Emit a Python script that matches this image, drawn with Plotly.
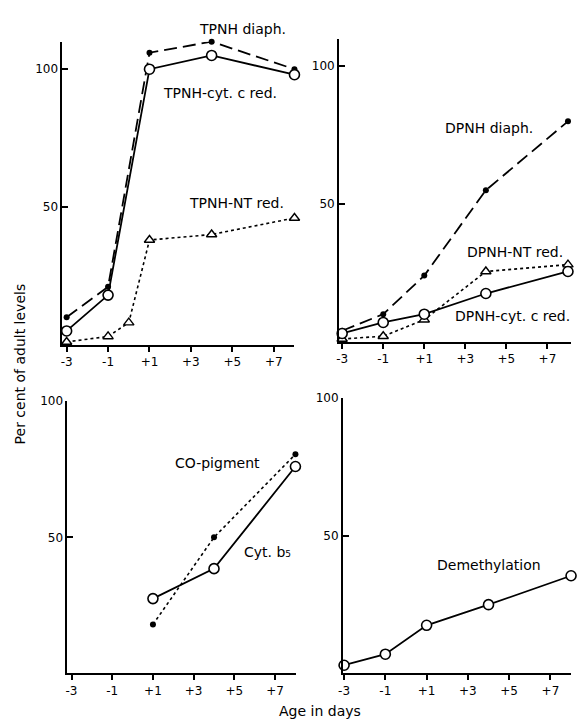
import plotly.graph_objects as go

W, H = 577, 724

# ---------------- data ----------------
days5 = [-3, -1, 1, 4, 8]
days_tpnh_nt = [-3, -1, 0, 1, 4, 8]
tpnh_diaph = [10, 21, 106, 110, 100]
tpnh_cyt = [5, 18, 100, 105, 98]
tpnh_nt = [1, 3, 8, 38, 40, 46]

dpnh_diaph = [4, 10, 24, 55, 80]
dpnh_cyt = [3, 7, 10, 17.5, 25.5]
dpnh_nt = [1, 2, 8, 25.5, 28]

days3 = [1, 4, 8]
co_pigment = [18, 50, 80.5]
cyt_b5 = [27.5, 38.5, 76]

demethylation = [3, 7, 17.5, 25, 35.5]

x_tickvals = [-3, -1, 1, 3, 5, 7]
x_ticktext = ["-3", "-1", "+1", "+3", "+5", "+7"]
y_tickvals = [50, 100]
y_ticktext = ["50", "100"]

FONT = "DejaVu Sans"
BLACK = "black"


def px(x):
    return x / W


def py(y):
    return 1 - y / H


fig = go.Figure()

DIAPH = dict(color=BLACK, width=1.8, dash="13px,6px")
SOLID = dict(color=BLACK, width=1.8)
DOTTED = dict(color=BLACK, width=1.6, dash="3px,3px")
DOT_M = dict(symbol="circle", size=6, color=BLACK)
CIRC_M = dict(symbol="circle", size=10, color="white", line=dict(color=BLACK, width=1.6))
TRI_M = dict(symbol="triangle-up", size=9, color="white", line=dict(color=BLACK, width=1.4))


def add(x, y, line, marker, xa, ya):
    fig.add_trace(go.Scatter(x=x, y=y, mode="lines+markers", line=line, marker=marker,
                             xaxis=xa, yaxis=ya, showlegend=False, cliponaxis=False,
                             hoverinfo="skip"))


# top-left
add(days_tpnh_nt, tpnh_nt, DOTTED, TRI_M, "x", "y")
add(days5, tpnh_diaph, DIAPH, DOT_M, "x", "y")
add(days5, tpnh_cyt, SOLID, CIRC_M, "x", "y")
# top-right
add(days5, dpnh_diaph, DIAPH, DOT_M, "x2", "y2")
add(days5, dpnh_nt, DOTTED, TRI_M, "x2", "y2")
add(days5, dpnh_cyt, SOLID, CIRC_M, "x2", "y2")
# bottom-left
add(days3, co_pigment, DOTTED, DOT_M, "x3", "y3")
add(days3, cyt_b5, SOLID, CIRC_M, "x3", "y3")
# bottom-right
add(days5, demethylation, SOLID, CIRC_M, "x4", "y4")


def xaxis(dom, rng, anchor):
    return dict(domain=dom, range=rng, anchor=anchor, tickvals=x_tickvals, ticktext=x_ticktext,
                showline=True, linecolor=BLACK, linewidth=2, ticks="outside", ticklen=5,
                tickwidth=1.5, tickcolor=BLACK, showgrid=False, zeroline=False,
                tickfont=dict(family=FONT, size=12, color=BLACK), fixedrange=True)


def yaxis(dom, rng, anchor):
    return dict(domain=dom, range=rng, anchor=anchor, tickvals=y_tickvals, ticktext=y_ticktext,
                showline=True, linecolor=BLACK, linewidth=2, ticks="inside", ticklen=6,
                tickwidth=1.5, tickcolor=BLACK, showgrid=False, zeroline=False,
                tickfont=dict(family=FONT, size=12, color=BLACK), fixedrange=True)


fig.update_layout(
    width=W, height=H,
    margin=dict(l=0, r=0, t=0, b=0),
    paper_bgcolor="white", plot_bgcolor="white",
    xaxis=xaxis([px(58), px(292)], [-3.2, 8.0], "y"),
    yaxis=yaxis([py(341), py(35)], [0, 110], "x"),
    xaxis2=xaxis([px(337), px(571)], [-3.15, 8.15], "y2"),
    yaxis2=yaxis([py(338), py(32)], [0, 110], "x2"),
    xaxis3=xaxis([px(63), px(294)], [-3.2, 8.05], "y3"),
    yaxis3=yaxis([py(673), py(398)], [0, 100], "x3"),
    xaxis4=xaxis([px(341), px(571)], [-3.05, 8.0], "y4"),
    yaxis4=yaxis([py(673), py(395)], [0, 100], "x4"),
)


def label(text, x, y, size=14, angle=0):
    fig.add_annotation(text=text, x=px(x), y=py(y), xref="paper", yref="paper",
                       showarrow=False, xanchor="center", yanchor="middle", textangle=angle,
                       font=dict(family=FONT, size=size, color=BLACK))


label("TPNH diaph.", 240, 22)
label("TPNH-cyt. c red.", 217, 87)
label("TPNH-NT red.", 234, 198)
label("DPNH diaph.", 488, 122)
label("DPNH-NT red.", 514, 247)
label("DPNH-cyt. c red.", 512, 312)
label("CO-pigment", 214, 460)
label("Cyt. b₅", 265, 550)
label("Demethylation", 488, 563)
label("Per cent of adult levels", 15, 360, size=14, angle=-90)
label("Age in days", 318, 711, size=14)

fig.write_html("out.html")
